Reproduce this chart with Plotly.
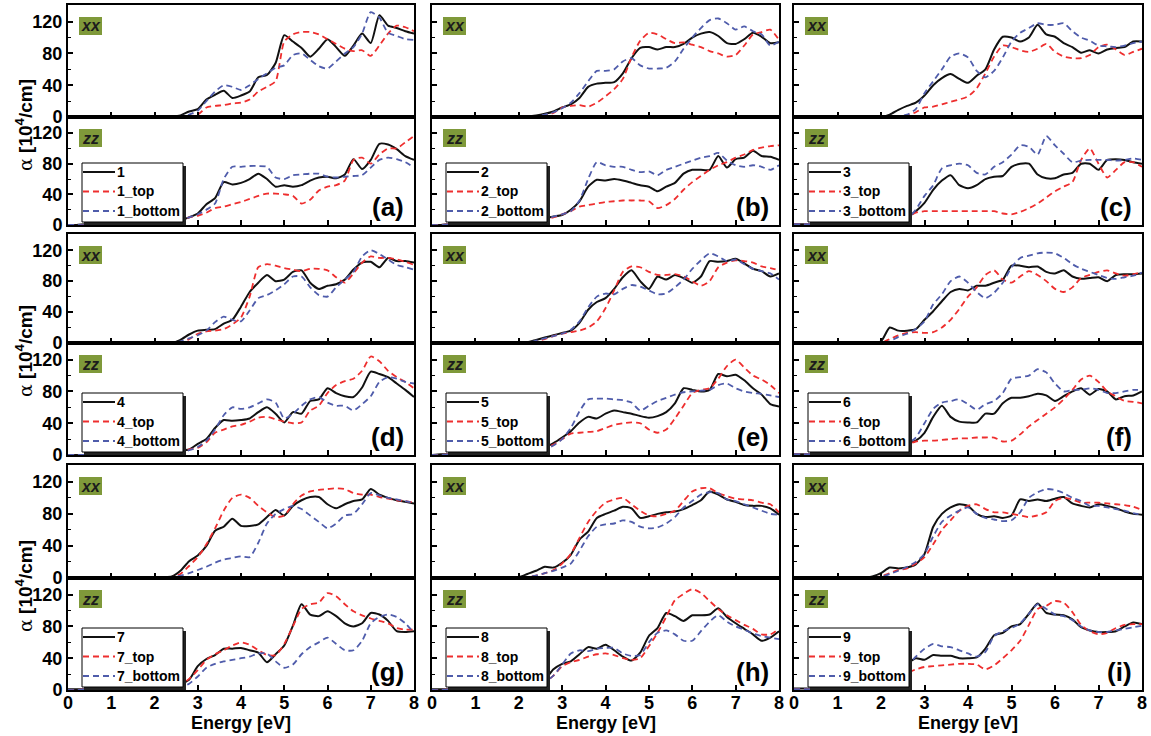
import plotly.graph_objects as go

W, H = 1151, 736
FONT = "Liberation Sans, Arial, sans-serif"

# photon energy grid (eV)
energy = [0.0, 0.2, 0.4, 0.6, 0.8, 1.0, 1.2, 1.4, 1.6, 1.8, 2.0,
          2.2, 2.4, 2.6, 2.8, 3.0, 3.2, 3.4, 3.6, 3.8, 4.0,
          4.2, 4.4, 4.6, 4.8, 5.0, 5.2, 5.4, 5.6, 5.8, 6.0,
          6.2, 6.4, 6.6, 6.8, 7.0, 7.2, 7.4, 7.6, 7.8, 8.0]

# absorption coefficient alpha (10^4 /cm), xx and zz components
xx_1 = [0, 0, 0, 0, 0, 0, 0, 0, 0, 0, 0, 0, 0.5, 2, 7, 10, 22, 28, 33, 24, 27,
        32, 50, 53, 68, 103, 95, 87, 76, 86, 98, 88, 77, 90, 105, 93, 128, 115, 112, 108, 105]
xx_1_top = [0, 0, 0, 0, 0, 0, 0, 0, 0, 0, 0, 0, 0, 0, 1, 3, 12, 14, 15, 17, 18,
            22, 32, 38, 45, 95, 104, 107, 107, 104, 98, 92, 86, 83, 84, 77, 90, 105, 115, 113, 108]
xx_1_bottom = [0, 0, 0, 0, 0, 0, 0, 0, 0, 0, 0, 0, 0, 1, 3, 8, 20, 32, 40, 38, 34,
               40, 48, 55, 62, 65, 78, 80, 72, 64, 61, 70, 80, 88, 105, 132, 125, 106, 102, 98, 97]
zz_1 = [0, 0, 1, 1, 1, 2, 2, 2, 3, 3, 3, 3, 4, 6, 10, 15, 27, 35, 56, 53, 55,
        60, 67, 60, 50, 52, 50, 52, 58, 62, 63, 61, 66, 86, 73, 85, 106, 105, 99, 90, 85]
zz_1_top = [0, 0, 0, 1, 1, 1, 1, 2, 2, 2, 2, 2, 3, 5, 10, 12, 16, 22, 24, 27, 30,
            34, 38, 41, 41, 40, 38, 28, 33, 45, 50, 52, 58, 85, 88, 80, 92, 100, 100, 108, 116]
zz_1_bottom = [0, 0, 0, 1, 1, 1, 1, 2, 2, 2, 2, 2, 3, 6, 10, 14, 20, 28, 60, 76, 76,
               77, 77, 76, 62, 60, 65, 66, 67, 67, 63, 62, 63, 64, 65, 75, 85, 88, 86, 82, 75]

xx_2 = [0, 0, 0, 0, 0, 0, 0, 0, 0, 0, 0, 1, 2, 4, 7, 12, 16, 24, 38, 42, 43,
        44, 55, 74, 87, 88, 85, 88, 88, 92, 100, 105, 107, 102, 93, 92, 98, 106, 101, 93, 94]
xx_2_top = [0, 0, 0, 0, 0, 0, 0, 0, 0, 0, 0, 0, 0, 2, 5, 12, 14, 15, 13, 18, 26,
            35, 48, 75, 96, 106, 104, 98, 93, 94, 91, 88, 83, 80, 76, 78, 90, 104, 107, 110, 97]
xx_2_bottom = [0, 0, 0, 0, 0, 0, 0, 0, 0, 0, 0, 0, 1, 3, 6, 11, 18, 30, 45, 58, 58,
               60, 70, 74, 65, 61, 61, 62, 70, 86, 100, 112, 122, 124, 118, 110, 114, 108, 104, 90, 95]
zz_2 = [0, 0, 1, 1, 1, 1, 2, 2, 2, 2, 3, 4, 6, 9, 11, 13, 20, 31, 50, 59, 58,
        60, 58, 55, 52, 50, 44, 50, 55, 67, 72, 72, 72, 90, 75, 86, 88, 97, 90, 89, 85]
zz_2_top = [0, 0, 1, 1, 1, 1, 1, 2, 2, 2, 2, 3, 5, 8, 10, 14, 18, 24, 26, 28, 30,
            31, 32, 32, 32, 31, 22, 26, 34, 46, 56, 64, 72, 78, 82, 88, 92, 98, 101, 103, 104]
zz_2_bottom = [0, 0, 1, 1, 1, 1, 1, 2, 2, 2, 3, 3, 5, 8, 11, 14, 18, 32, 60, 82, 78,
               76, 76, 72, 69, 70, 65, 72, 76, 80, 84, 88, 90, 94, 84, 78, 76, 78, 76, 72, 78]

xx_3 = [0, 0, 0, 0, 0, 0, 0, 0, 0, 0, 0, 3, 9, 14, 18, 27, 40, 49, 54, 48, 43,
        52, 60, 85, 101, 100, 95, 100, 116, 104, 101, 93, 88, 81, 84, 80, 85, 87, 88, 95, 95]
xx_3_top = [0, 0, 0, 0, 0, 0, 0, 0, 0, 0, 0, 0, 0, 2, 6, 12, 13, 16, 19, 22, 26,
            36, 55, 76, 90, 88, 84, 82, 86, 92, 82, 76, 74, 74, 78, 88, 91, 85, 78, 82, 86]
xx_3_bottom = [0, 0, 0, 0, 0, 0, 0, 0, 0, 0, 0, 0, 1, 3, 10, 30, 45, 60, 76, 80, 75,
               58, 50, 58, 75, 95, 106, 112, 118, 116, 116, 118, 108, 100, 96, 90, 89, 88, 90, 93, 95]
zz_3 = [1, 1, 1, 2, 2, 3, 3, 2, 3, 3, 3, 4, 6, 10, 18, 29, 46, 58, 65, 52, 48,
        52, 60, 63, 64, 76, 80, 80, 66, 61, 61, 66, 68, 80, 80, 72, 85, 86, 85, 82, 80]
zz_3_top = [1, 1, 1, 1, 2, 2, 2, 2, 3, 3, 3, 4, 5, 10, 16, 18, 18, 18, 18, 18, 18,
            18, 18, 18, 15, 14, 17, 22, 28, 36, 44, 50, 56, 85, 100, 80, 62, 72, 82, 82, 76]
zz_3_bottom = [1, 1, 1, 1, 2, 2, 2, 2, 3, 3, 3, 4, 5, 8, 20, 38, 52, 74, 78, 80, 78,
               68, 66, 76, 82, 92, 104, 102, 92, 116, 104, 93, 82, 84, 85, 85, 85, 84, 85, 87, 85]

xx_4 = [0, 0, 0, 0, 0, 0, 0, 0, 0, 0, 0, 0, 0, 4, 11, 16, 17, 18, 25, 30, 47,
        66, 78, 88, 80, 82, 92, 94, 78, 70, 74, 76, 82, 95, 104, 105, 98, 110, 106, 106, 104]
xx_4_top = [0, 0, 0, 0, 0, 0, 0, 0, 0, 0, 0, 0, 0, 0, 5, 12, 15, 16, 18, 24, 33,
            60, 98, 102, 100, 97, 95, 93, 96, 96, 94, 85, 78, 90, 104, 112, 110, 110, 108, 105, 101]
xx_4_bottom = [0, 0, 0, 0, 0, 0, 0, 0, 0, 0, 0, 0, 0, 2, 6, 10, 16, 27, 34, 30, 28,
               42, 58, 62, 68, 76, 86, 86, 72, 62, 60, 72, 82, 92, 112, 120, 115, 108, 101, 98, 95]
zz_4 = [0, 0, 0, 1, 1, 1, 1, 2, 2, 2, 3, 4, 5, 6, 7, 14, 20, 34, 44, 43, 44,
        46, 54, 60, 52, 41, 54, 52, 68, 70, 84, 78, 74, 73, 85, 105, 102, 98, 90, 82, 73]
zz_4_top = [0, 0, 0, 0, 1, 1, 1, 1, 2, 2, 2, 3, 3, 4, 7, 9, 16, 28, 32, 36, 38,
            42, 47, 48, 45, 42, 40, 41, 56, 62, 78, 88, 93, 96, 106, 124, 118, 106, 98, 92, 84]
zz_4_bottom = [0, 0, 0, 0, 1, 1, 1, 1, 2, 2, 2, 3, 3, 4, 6, 10, 18, 32, 50, 60, 58,
               60, 65, 70, 66, 46, 52, 62, 70, 73, 66, 62, 62, 56, 64, 74, 92, 98, 96, 92, 90]

xx_5 = [0, 0, 0, 0, 0, 0, 0, 0, 0, 0, 0, 1, 4, 7, 10, 13, 16, 26, 43, 53, 58,
        70, 85, 94, 80, 70, 86, 82, 88, 84, 78, 86, 106, 105, 106, 109, 103, 96, 93, 86, 90]
xx_5_top = [0, 0, 0, 0, 0, 0, 0, 0, 0, 0, 0, 0, 2, 5, 9, 12, 14, 16, 20, 28, 45,
            68, 92, 99, 98, 92, 88, 88, 89, 86, 80, 74, 80, 98, 104, 107, 106, 104, 99, 97, 94]
xx_5_bottom = [0, 0, 0, 0, 0, 0, 0, 0, 0, 0, 0, 0, 3, 6, 9, 12, 17, 28, 46, 60, 64,
               63, 70, 75, 73, 68, 63, 64, 72, 82, 96, 107, 116, 112, 106, 108, 102, 96, 93, 90, 82]
zz_5 = [0, 1, 1, 1, 1, 2, 2, 2, 3, 3, 4, 7, 9, 10, 15, 22, 30, 41, 48, 46, 52,
        56, 54, 52, 49, 47, 49, 54, 65, 84, 82, 80, 82, 102, 99, 101, 94, 84, 76, 64, 61]
zz_5_top = [0, 0, 1, 1, 1, 1, 2, 2, 2, 3, 3, 4, 6, 9, 13, 20, 27, 28, 29, 30, 34,
            38, 40, 41, 40, 32, 28, 32, 46, 62, 78, 82, 84, 96, 112, 120, 110, 100, 95, 88, 78]
zz_5_bottom = [0, 0, 1, 1, 1, 1, 2, 2, 2, 3, 3, 4, 5, 7, 12, 20, 34, 55, 70, 71, 71,
               70, 69, 66, 56, 62, 68, 72, 76, 79, 80, 81, 82, 88, 90, 84, 80, 78, 77, 75, 73]

xx_6 = [0, 0, 0, 0, 0, 0, 0, 0, 0, 0, 2, 20, 16, 16, 18, 30, 41, 54, 66, 70, 68,
        74, 74, 78, 82, 100, 100, 98, 99, 92, 90, 94, 86, 83, 84, 85, 80, 88, 89, 89, 90]
xx_6_top = [0, 0, 0, 0, 0, 0, 0, 0, 0, 0, 0, 5, 10, 13, 14, 13, 14, 20, 30, 44, 60,
            72, 88, 94, 82, 78, 86, 93, 88, 80, 70, 66, 72, 84, 88, 92, 94, 90, 87, 89, 92]
xx_6_bottom = [0, 0, 0, 0, 0, 0, 0, 0, 0, 0, 0, 2, 8, 12, 18, 28, 50, 63, 80, 86, 78,
               66, 58, 65, 78, 98, 110, 113, 116, 117, 116, 110, 102, 96, 92, 88, 84, 83, 85, 87, 91]
zz_6 = [1, 1, 1, 2, 2, 2, 2, 1, 2, 3, 5, 9, 13, 15, 18, 28, 48, 62, 48, 42, 41,
        41, 52, 52, 65, 72, 72, 74, 77, 75, 68, 74, 80, 84, 76, 83, 80, 70, 74, 75, 80]
zz_6_top = [1, 1, 1, 1, 1, 2, 2, 2, 2, 2, 3, 5, 8, 13, 17, 18, 18, 19, 20, 21, 21,
            22, 22, 22, 17, 18, 26, 36, 44, 52, 60, 70, 82, 95, 100, 92, 80, 74, 68, 67, 65]
zz_6_bottom = [1, 1, 1, 1, 1, 2, 2, 2, 2, 2, 3, 5, 8, 14, 22, 40, 58, 66, 68, 70, 64,
               57, 64, 68, 78, 96, 98, 100, 108, 104, 90, 80, 82, 82, 84, 82, 78, 78, 80, 82, 82]

xx_7 = [0, 0, 0, 0, 0, 0, 0, 0, 0, 0, 0, 1, 2, 9, 21, 28, 40, 59, 64, 74, 65,
        65, 67, 76, 85, 78, 90, 97, 101, 101, 92, 87, 92, 96, 98, 111, 104, 100, 97, 95, 93]
xx_7_top = [0, 0, 0, 0, 0, 0, 0, 0, 0, 0, 0, 0, 1, 5, 15, 26, 42, 62, 84, 100, 104,
            100, 90, 82, 76, 78, 92, 103, 108, 110, 111, 112, 111, 106, 104, 104, 101, 99, 97, 96, 94]
xx_7_bottom = [0, 0, 0, 0, 0, 0, 0, 0, 0, 0, 0, 0, 1, 3, 6, 10, 14, 19, 23, 25, 27,
               26, 44, 68, 80, 86, 90, 86, 78, 70, 62, 68, 78, 80, 92, 106, 103, 100, 98, 96, 94]
zz_7 = [1, 1, 1, 1, 2, 3, 3, 3, 4, 4, 5, 6, 7, 8, 13, 30, 39, 44, 52, 52, 53,
        50, 47, 35, 45, 56, 81, 108, 95, 93, 99, 93, 84, 80, 84, 97, 95, 87, 74, 73, 74]
zz_7_top = [0, 0, 1, 1, 1, 2, 2, 2, 3, 3, 3, 4, 5, 6, 14, 25, 38, 45, 50, 56, 60,
            57, 50, 44, 44, 58, 80, 102, 108, 110, 122, 118, 108, 99, 94, 90, 87, 84, 78, 76, 76]
zz_7_bottom = [0, 0, 1, 1, 1, 2, 2, 2, 3, 3, 3, 3, 3, 3, 8, 17, 28, 33, 36, 38, 40,
               42, 46, 46, 36, 28, 32, 45, 54, 60, 66, 58, 50, 50, 62, 84, 92, 95, 92, 84, 72]

xx_8 = [0, 0, 0, 0, 0, 0, 0, 0, 0, 0, 1, 5, 9, 14, 13, 19, 29, 48, 58, 75, 80,
        84, 89, 87, 75, 77, 80, 82, 83, 86, 91, 97, 108, 104, 98, 95, 91, 90, 90, 87, 79]
xx_8_top = [0, 0, 0, 0, 0, 0, 0, 0, 0, 0, 0, 1, 3, 6, 10, 18, 30, 50, 70, 84, 94,
            98, 100, 92, 84, 78, 77, 80, 84, 96, 108, 112, 112, 106, 102, 99, 98, 97, 94, 92, 82]
xx_8_bottom = [0, 0, 0, 0, 0, 0, 0, 0, 0, 0, 0, 1, 3, 6, 9, 13, 18, 34, 52, 64, 67,
               68, 72, 70, 64, 62, 63, 68, 76, 88, 96, 104, 107, 106, 98, 96, 92, 88, 84, 80, 79]
zz_8 = [1, 1, 1, 2, 2, 2, 2, 3, 3, 3, 4, 6, 8, 13, 26, 33, 36, 45, 54, 52, 57,
        50, 42, 37, 47, 68, 78, 97, 93, 87, 94, 94, 95, 103, 92, 84, 77, 70, 62, 66, 74]
zz_8_top = [0, 0, 1, 1, 1, 1, 2, 2, 2, 2, 2, 4, 7, 10, 18, 30, 35, 38, 42, 45, 46,
            44, 40, 38, 40, 55, 72, 92, 113, 121, 127, 122, 112, 102, 94, 88, 82, 77, 70, 70, 77]
zz_8_bottom = [0, 0, 1, 1, 1, 1, 2, 2, 2, 2, 3, 3, 5, 10, 18, 32, 46, 50, 49, 52, 53,
               53, 46, 43, 44, 60, 72, 75, 70, 62, 62, 74, 86, 94, 86, 80, 76, 71, 68, 66, 64]

xx_9 = [0, 0, 0, 0, 0, 0, 0, 0, 0, 2, 6, 13, 12, 13, 17, 30, 64, 80, 88, 92, 90,
        80, 76, 77, 75, 78, 98, 96, 98, 96, 99, 101, 93, 90, 88, 92, 90, 87, 83, 80, 79]
xx_9_top = [0, 0, 0, 0, 0, 0, 0, 0, 0, 0, 2, 6, 10, 12, 18, 26, 42, 60, 72, 84, 90,
            92, 86, 82, 82, 80, 78, 76, 78, 82, 96, 100, 98, 94, 94, 94, 93, 92, 91, 89, 85]
xx_9_bottom = [0, 0, 0, 0, 0, 0, 0, 0, 0, 0, 1, 5, 9, 14, 20, 30, 52, 70, 78, 84, 88,
               80, 75, 73, 71, 72, 82, 100, 107, 111, 110, 106, 100, 96, 90, 90, 88, 86, 84, 81, 79]
zz_9 = [2, 2, 2, 3, 3, 3, 3, 4, 4, 4, 6, 12, 27, 33, 40, 38, 44, 43, 43, 40, 40,
        41, 52, 69, 72, 80, 83, 96, 109, 97, 95, 94, 89, 79, 75, 73, 73, 74, 80, 85, 83]
zz_9_top = [1, 1, 1, 2, 2, 2, 2, 2, 2, 2, 2, 5, 12, 21, 26, 29, 30, 31, 32, 33, 33,
            32, 26, 31, 40, 50, 62, 82, 102, 106, 112, 110, 98, 82, 74, 70, 72, 78, 82, 83, 83]
zz_9_bottom = [1, 1, 1, 2, 2, 2, 2, 3, 3, 3, 4, 8, 20, 30, 42, 52, 58, 55, 54, 50, 46,
               42, 48, 68, 74, 78, 84, 96, 108, 102, 95, 93, 88, 80, 75, 73, 73, 75, 77, 79, 81]

structures = ["1", "2", "3", "4", "5", "6", "7", "8", "9"]
panel_tags = ["(a)", "(b)", "(c)", "(d)", "(e)", "(f)", "(g)", "(h)", "(i)"]
components = ["xx", "zz"]

data = {
    "1": {"xx": (xx_1, xx_1_top, xx_1_bottom), "zz": (zz_1, zz_1_top, zz_1_bottom)},
    "2": {"xx": (xx_2, xx_2_top, xx_2_bottom), "zz": (zz_2, zz_2_top, zz_2_bottom)},
    "3": {"xx": (xx_3, xx_3_top, xx_3_bottom), "zz": (zz_3, zz_3_top, zz_3_bottom)},
    "4": {"xx": (xx_4, xx_4_top, xx_4_bottom), "zz": (zz_4, zz_4_top, zz_4_bottom)},
    "5": {"xx": (xx_5, xx_5_top, xx_5_bottom), "zz": (zz_5, zz_5_top, zz_5_bottom)},
    "6": {"xx": (xx_6, xx_6_top, xx_6_bottom), "zz": (zz_6, zz_6_top, zz_6_bottom)},
    "7": {"xx": (xx_7, xx_7_top, xx_7_bottom), "zz": (zz_7, zz_7_top, zz_7_bottom)},
    "8": {"xx": (xx_8, xx_8_top, xx_8_bottom), "zz": (zz_8, zz_8_top, zz_8_bottom)},
    "9": {"xx": (xx_9, xx_9_top, xx_9_bottom), "zz": (zz_9, zz_9_top, zz_9_bottom)},
}

suffixes = ["", "_top", "_bottom"]
line_styles = [
    dict(color="#111111", width=2.0, dash="solid"),
    dict(color="#ee2e2e", width=1.8, dash="6px,4px"),
    dict(color="#4f5cab", width=1.8, dash="6px,4px"),
]
LABEL_BOX = "#7f993a"

# pixel geometry of the grid of panels
col_px = [(68, 414), (432, 779), (794, 1142)]
row_px = [((5, 117), (117, 225)), ((234, 343), (343, 455)), ((465, 578), (578, 690))]


def fx(px):
    return px / W


def fy(py):
    return 1 - py / H


def rect(x0, y0, x1, y1, **kw):
    return dict(type="rect", xref="paper", yref="paper",
                x0=fx(x0), x1=fx(x1), y0=fy(y1), y1=fy(y0), **kw)


fig = go.Figure()
layout = dict(
    width=W, height=H, margin=dict(l=0, r=0, t=0, b=0, autoexpand=False),
    paper_bgcolor="white", plot_bgcolor="white", showlegend=False,
)
shapes, annotations = [], []
tick_font = dict(family=FONT, size=18, color="black", weight="bold")

for p, name in enumerate(structures):
    r, c = divmod(p, 3)
    left, right = col_px[c]
    for s, comp in enumerate(components):
        k = 2 * p + s + 1
        top, bot = row_px[r][s]
        xname = "xaxis" if k == 1 else f"xaxis{k}"
        yname = "yaxis" if k == 1 else f"yaxis{k}"
        layout[xname] = dict(
            domain=[fx(left), fx(right)], range=[0, 8], anchor=f"y{k}",
            showline=True, linecolor="black", linewidth=2, mirror=True,
            ticks="inside", ticklen=5, tickwidth=1.5, tickcolor="black",
            tick0=0, dtick=1, showgrid=False, zeroline=False, automargin=False,
            showticklabels=(r == 2 and s == 1), tickfont=tick_font,
            ticklabelstandoff=-5,
        )
        layout[yname] = dict(
            domain=[fy(bot), fy(top)], range=[0, 141], anchor=f"x{k}",
            showline=True, linecolor="black", linewidth=2, mirror=True,
            ticks="inside", ticklen=5, tickwidth=1.5, tickcolor="black",
            tick0=0, dtick=40, showgrid=False, zeroline=False, automargin=False,
            minor=dict(dtick=20, ticks="inside", ticklen=3, tickwidth=1.2,
                       tickcolor="black", showgrid=False),
            showticklabels=(c == 0), tickfont=tick_font,
        )
        for series, suf, style in zip(data[name][comp], suffixes, line_styles):
            fig.add_trace(go.Scatter(
                x=energy, y=series, mode="lines",
                xaxis=f"x{k}", yaxis=f"y{k}",
                name=name + suf,
                line=dict(color=style["color"], width=style["width"],
                          dash=style["dash"], shape="spline", smoothing=0.6),
                hoverinfo="skip",
            ))
        # component tag box
        shapes.append(rect(left + 11, top + 12, left + 34, top + 30,
                           fillcolor=LABEL_BOX, line=dict(width=0)))
        annotations.append(dict(xref="paper", yref="paper",
                                x=fx(left + 22.5), y=fy(top + 21),
                                text=f"<b><i>{comp}</i></b>", showarrow=False,
                                xanchor="center", yanchor="middle",
                                font=dict(family=FONT, size=16, color="#1c1c1c")))

    # key box in the zz panel, with a drop shadow
    zz_top, zz_bot = row_px[r][1]
    lx0, lx1 = left + 14, left + 115
    ly0, ly1 = zz_bot - 62, zz_bot - 3
    shapes.append(rect(lx0 + 2, ly0 + 3, lx1 + 3, ly1 + 3,
                       fillcolor="#222222", line=dict(width=0)))
    shapes.append(rect(lx0, ly0, lx1, ly1, fillcolor="white",
                       line=dict(color="black", width=1)))
    for i, (suf, style) in enumerate(zip(suffixes, line_styles)):
        yc = ly0 + 9 + i * 19.5
        shapes.append(dict(type="line", xref="paper", yref="paper",
                           x0=fx(lx0 + 1), x1=fx(lx0 + 33), y0=fy(yc), y1=fy(yc),
                           line=dict(color=style["color"], width=style["width"],
                                     dash=style["dash"])))
        annotations.append(dict(xref="paper", yref="paper",
                                x=fx(lx0 + 33), y=fy(yc),
                                text=f"<b>{name}{suf}</b>", showarrow=False,
                                xanchor="left", yanchor="middle",
                                font=dict(family=FONT, size=14, color="black")))

    # panel tag
    annotations.append(dict(xref="paper", yref="paper",
                            x=fx(right - 8), y=fy(zz_bot - 18),
                            text=f"<b>{panel_tags[p]}</b>", showarrow=False,
                            xanchor="right", yanchor="middle",
                            font=dict(family=FONT, size=26, color="black")))

# axis titles
for c in range(3):
    left, right = col_px[c]
    annotations.append(dict(xref="paper", yref="paper",
                            x=fx((left + right) / 2), y=fy(723),
                            text="<b>Energy [eV]</b>", showarrow=False,
                            xanchor="center", yanchor="middle",
                            font=dict(family=FONT, size=18, color="black")))
for r in range(3):
    mid = row_px[r][0][1] + 8
    annotations.append(dict(xref="paper", yref="paper",
                            x=fx(24), y=fy(mid), textangle=-90,
                            text="<span style='font-family:DejaVu Serif, serif; font-weight:normal'>α</span>"
                                 " <b>[10<sup>4</sup>/cm]</b>",
                            showarrow=False, xanchor="center", yanchor="middle",
                            font=dict(family=FONT, size=19, color="black")))

layout["shapes"] = shapes
layout["annotations"] = annotations
fig.update_layout(**layout)
fig.write_html("out.html")
